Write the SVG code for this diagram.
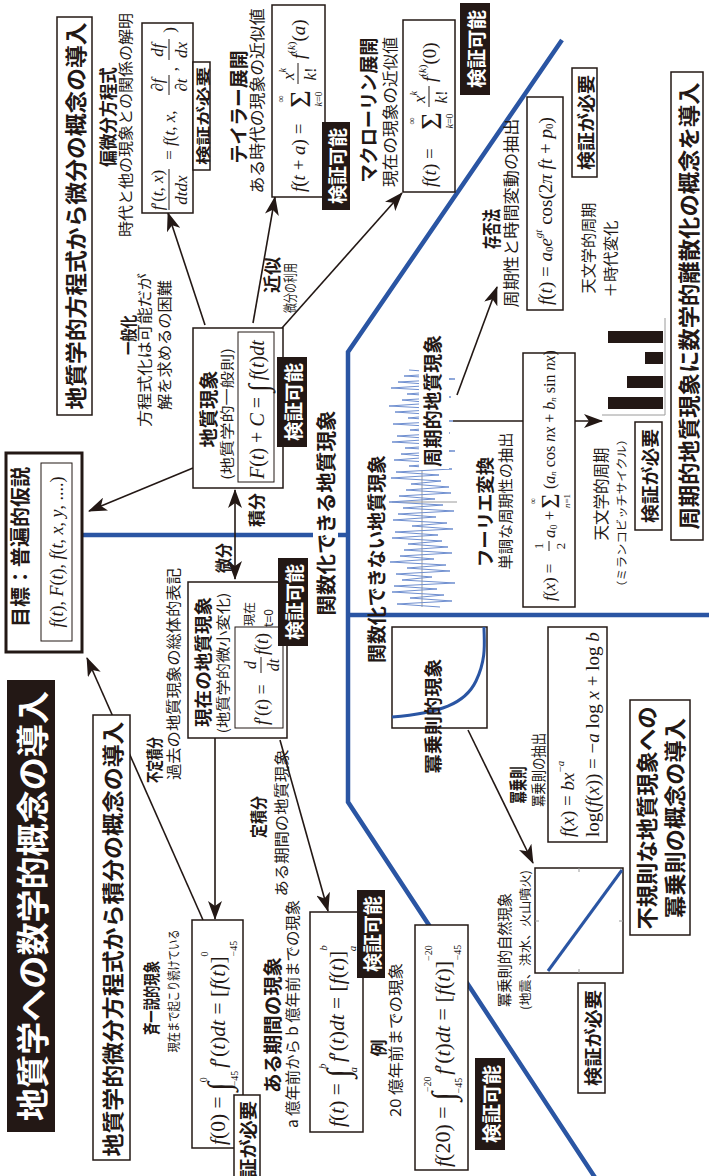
<svg xmlns="http://www.w3.org/2000/svg" width="709" height="1176" viewBox="0 0 709 1176">
<style>
.t{font-family:"Noto Sans CJK JP","Noto Sans CJK SC",sans-serif;text-anchor:middle;dominant-baseline:central;fill:#231815}
.b{font-weight:700}
.w{fill:#fff}
.m{font-family:"Liberation Serif",serif;fill:#231815;dominant-baseline:central}
.mc{text-anchor:middle}
.i{font-style:italic}
.box{fill:#fff;stroke:#231815;stroke-width:1.5}
.ibox{fill:#fff;stroke:#231815;stroke-width:1}
.blk{fill:#231815}
.need{fill:#fff;stroke:#231815;stroke-width:1.5}
.blue{fill:none;stroke:#2a55a3;stroke-width:4.5}
.ar{fill:none;stroke:#231815;stroke-width:1.6;marker-end:url(#ah)}
.fl{stroke:#231815;stroke-width:1}
.gray{fill:none;stroke:#9a9a9a;stroke-width:1}
</style>
<defs>
<marker id="ah" markerUnits="userSpaceOnUse" markerWidth="20" markerHeight="14" refX="18" refY="7" orient="auto-start-reverse"><path d="M0,0 L19,7 L0,14 L5,7 z" fill="#231815"/></marker>
</defs>
<rect width="709" height="1176" fill="#fff"/>
<g transform="translate(0,1176) rotate(-90)">

<g id="regions">
<polyline class="blue" points="1136,562 824,348 374,348 -3,596"/>
<line class="blue" x1="641" y1="82" x2="641" y2="313"/>
<line class="blue" x1="641" y1="338" x2="641" y2="350"/>
<line class="blue" x1="561" y1="348" x2="561" y2="712"/>
<text class="t b" x="663" y="325" font-size="20" textLength="205" lengthAdjust="spacingAndGlyphs">関数化できる地質現象</text>
<text class="t b" x="617" y="375" font-size="19" textLength="208" lengthAdjust="spacingAndGlyphs">関数化できない地質現象</text>
</g>

<g id="connectors">
<line class="ar" x1="256" y1="203" x2="518" y2="87"/>
<line class="ar" x1="708" y1="193" x2="665" y2="89"/>
<line class="ar" x1="597" y1="235" x2="686" y2="235" style="marker-start:url(#ah)"/>
<line class="ar" x1="851" y1="205" x2="963" y2="168"/>
<line class="ar" x1="853" y1="253" x2="979" y2="275"/>
<line class="ar" x1="848" y1="282" x2="983" y2="402"/>
<line class="ar" x1="438" y1="215" x2="257" y2="215"/>
<line class="ar" x1="436" y1="280" x2="265" y2="328"/>
<line class="ar" x1="446" y1="468" x2="313" y2="533"/>
<line class="ar" x1="781" y1="457" x2="889" y2="497"/>
<line class="ar" x1="755" y1="453" x2="755" y2="602"/>
<text class="t b" x="666" y="255" font-size="17" textLength="34" lengthAdjust="spacingAndGlyphs">積分</text>
<text class="t b" x="618" y="222" font-size="17" textLength="30" lengthAdjust="spacingAndGlyphs">微分</text>
<text class="t b" x="841" y="127" font-size="17" textLength="40" lengthAdjust="spacingAndGlyphs">一般化</text>
<text class="t" x="826" y="143" font-size="15" textLength="154" lengthAdjust="spacingAndGlyphs">方程式化は可能だが</text>
<text class="t" x="831" y="163" font-size="15" textLength="130" lengthAdjust="spacingAndGlyphs">解を求めるの困難</text>
<text class="t b" x="901" y="271" font-size="18" textLength="36" lengthAdjust="spacingAndGlyphs">近似</text>
<text class="t" x="888" y="289" font-size="14" textLength="50" lengthAdjust="spacingAndGlyphs">微分の利用</text>
<text class="t b" x="416" y="153" font-size="17" textLength="46" lengthAdjust="spacingAndGlyphs">不定積分</text>
<text class="t" x="502" y="172" font-size="15" textLength="212" lengthAdjust="spacingAndGlyphs">過去の地質現象の総体的表記</text>
<text class="t b" x="359" y="257" font-size="17" textLength="42" lengthAdjust="spacingAndGlyphs">定積分</text>
<text class="t" x="353" y="280" font-size="15" textLength="147" lengthAdjust="spacingAndGlyphs">ある期間の地質現象</text>
<text class="t b" x="391" y="517" font-size="18" textLength="37" lengthAdjust="spacingAndGlyphs">冪乗則</text>
<text class="t" x="406" y="537" font-size="15" textLength="74" lengthAdjust="spacingAndGlyphs">冪乗則の抽出</text>
<text class="t b" x="664" y="484" font-size="18" textLength="110" lengthAdjust="spacingAndGlyphs">フーリエ変換</text>
<text class="t" x="675" y="504" font-size="15" textLength="137" lengthAdjust="spacingAndGlyphs">単調な周期性の抽出</text>
<text class="t b" x="947" y="490" font-size="19" textLength="40" lengthAdjust="spacingAndGlyphs">存否法</text>
<text class="t" x="963" y="510" font-size="16" textLength="189" lengthAdjust="spacingAndGlyphs">周期性と時間変動の抽出</text>
</g>

<g id="n-title">
<rect x="44" y="7" width="452" height="48" class="blk"/>
<text class="t b w" x="270" y="31" font-size="33" textLength="430" lengthAdjust="spacingAndGlyphs">地質学への数学的概念の導入</text>
</g>

<g id="n-goal">
<rect x="524" y="6" width="199" height="76" fill="#fff" stroke="#231815" stroke-width="3"/>
<text class="t b" x="629" y="19" font-size="20" textLength="160" lengthAdjust="spacingAndGlyphs">目標：普遍的仮説</text>
<rect x="535" y="41" width="178" height="31" class="ibox"/>
<text class="m mc" x="624" y="57" font-size="18"><tspan class="i">f</tspan>(<tspan class="i">t</tspan>), <tspan class="i">F</tspan>(<tspan class="i">t</tspan>), <tspan class="i">f</tspan>(<tspan class="i">t</tspan>, <tspan class="i">x</tspan>, <tspan class="i">y</tspan>, ....)</text>
</g>

<g id="n-diff-intro">
<rect x="761" y="57" width="398" height="35" class="box"/>
<text class="t b" x="960" y="74" font-size="22" textLength="387" lengthAdjust="spacingAndGlyphs">地質学的方程式から微分の概念の導入</text>
</g>

<g id="n-int-intro">
<rect x="16" y="93" width="445" height="37" class="box"/>
<text class="t b" x="237" y="111" font-size="22" textLength="435" lengthAdjust="spacingAndGlyphs">地質学的微分方程式から積分の概念の導入</text>
</g>

<g id="n-geo">
<rect x="688" y="193" width="160" height="90" class="box"/>
<text class="t b" x="767" y="207" font-size="19" textLength="77" lengthAdjust="spacingAndGlyphs">地質現象</text>
<text class="t" x="762" y="226" font-size="14" textLength="132" lengthAdjust="spacingAndGlyphs">(地質学的一般則)</text>
<rect x="694" y="238" width="150" height="36" class="ibox"/>
<text class="m" x="697" y="257" font-size="20"><tspan class="i">F</tspan>(<tspan class="i">t</tspan>) + <tspan class="i">C</tspan> = <tspan font-size="28" dy="1">∫</tspan><tspan dx="4" dy="-1"><tspan class="i">f</tspan>(<tspan class="i">t</tspan>)<tspan class="i">dt</tspan></tspan></text>
<rect x="729" y="277" width="90" height="30" class="blk"/>
<text class="t b w" x="774" y="292" font-size="19" textLength="78" lengthAdjust="spacingAndGlyphs">検証可能</text>
</g>

<g id="n-present">
<rect x="438" y="188" width="156" height="99" class="box"/>
<text class="t b" x="514" y="202" font-size="18" textLength="130" lengthAdjust="spacingAndGlyphs">現在の地質現象</text>
<text class="t" x="513" y="222" font-size="14" textLength="141" lengthAdjust="spacingAndGlyphs">(地質学的微小変化)</text>
<rect x="448" y="235" width="101" height="48" class="ibox"/>
<text class="m" x="451" y="262" font-size="18"><tspan class="i">f</tspan>′(<tspan class="i">t</tspan>) =</text>
<text class="m mc i" x="511" y="250" font-size="16">d</text>
<line class="fl" x1="503" y1="261" x2="519" y2="261"/>
<text class="m mc i" x="511" y="273" font-size="16">dt</text>
<text class="m" x="521" y="262" font-size="18"><tspan class="i">f</tspan>(<tspan class="i">t</tspan>)</text>
<text class="t" x="562" y="248" font-size="12">現在</text>
<text class="t" x="558" y="267" font-size="12">t=0</text>
<rect x="530" y="278" width="88" height="30" class="blk"/>
<text class="t b w" x="574" y="293" font-size="19" textLength="76" lengthAdjust="spacingAndGlyphs">検証可能</text>
</g>

<g id="n-pde">
<text class="t b" x="1059" y="107" font-size="18" textLength="100" lengthAdjust="spacingAndGlyphs">偏微分方程式</text>
<text class="t" x="1051" y="124" font-size="15" textLength="224" lengthAdjust="spacingAndGlyphs">時代と他の現象との関係の解明</text>
<rect x="963" y="142" width="190" height="51" class="box"/>
<text class="m mc" x="986" y="157" font-size="17"><tspan class="i">f</tspan>′(<tspan class="i">t</tspan>, <tspan class="i">x</tspan>)</text>
<line class="fl" x1="966" y1="169" x2="1007" y2="169"/>
<text class="m mc i" x="986" y="181" font-size="17">dtdx</text>
<text class="m mc" x="1021" y="169" font-size="17">=</text>
<text class="m" x="1030" y="169" font-size="17"><tspan class="i">f</tspan>(<tspan class="i">t</tspan>, <tspan class="i">x</tspan>,</text>
<text class="m mc" x="1091" y="157" font-size="17">∂<tspan class="i">f</tspan></text>
<line class="fl" x1="1081" y1="169" x2="1101" y2="169"/>
<text class="m mc" x="1091" y="181" font-size="17">∂<tspan class="i">t</tspan></text>
<text class="m mc" x="1107" y="171" font-size="17">,</text>
<text class="m mc i" x="1126" y="157" font-size="17">df</text>
<line class="fl" x1="1116" y1="169" x2="1137" y2="169"/>
<text class="m mc i" x="1126" y="181" font-size="17">dx</text>
<text class="m mc" x="1146" y="169" font-size="17">)</text>
<rect x="1006" y="193" width="108" height="17" class="need"/>
<text class="t b" x="1060" y="202" font-size="14" textLength="98" lengthAdjust="spacingAndGlyphs">検証が必要</text>
</g>

<g id="n-taylor">
<text class="t b" x="1069" y="237" font-size="19" textLength="113" lengthAdjust="spacingAndGlyphs">テイラー展開</text>
<text class="t" x="1075" y="256" font-size="16" textLength="185" lengthAdjust="spacingAndGlyphs">ある時代の現象の近似値</text>
<rect x="979" y="272" width="192" height="53" class="box"/>
<text class="m" x="984" y="298" font-size="19"><tspan class="i">f</tspan>(<tspan class="i">t</tspan> + <tspan class="i">a</tspan>) =</text>
<text class="m mc" x="1077" y="299" font-size="30">Σ</text>
<text class="m mc" x="1077" y="280" font-size="10">∞</text>
<text class="m mc" x="1077" y="318" font-size="10"><tspan class="i">k</tspan>=0</text>
<text class="m mc" x="1102" y="288" font-size="17"><tspan class="i">x</tspan><tspan class="i" font-size="10" dy="-6">k</tspan></text>
<line class="fl" x1="1092" y1="298" x2="1113" y2="298"/>
<text class="m mc" x="1102" y="310" font-size="17"><tspan class="i">k</tspan>!</text>
<text class="m" x="1117" y="298" font-size="19"><tspan class="i">f</tspan><tspan font-size="11" dy="-7">(<tspan class="i">k</tspan>)</tspan><tspan dy="7">(</tspan><tspan class="i">a</tspan>)</text>
<rect x="966" y="322" width="88" height="28" class="blk"/>
<text class="t b w" x="1010" y="336" font-size="19" textLength="76" lengthAdjust="spacingAndGlyphs">検証可能</text>
</g>

<g id="n-maclaurin">
<text class="t b" x="1066" y="367" font-size="19" textLength="145" lengthAdjust="spacingAndGlyphs">マクローリン展開</text>
<text class="t" x="1064" y="389" font-size="16" textLength="150" lengthAdjust="spacingAndGlyphs">現在の現象の近似値</text>
<rect x="984" y="403" width="172" height="52" class="box"/>
<text class="m" x="989" y="429" font-size="19"><tspan class="i">f</tspan>(<tspan class="i">t</tspan>) =</text>
<text class="m mc" x="1055" y="430" font-size="30">Σ</text>
<text class="m mc" x="1055" y="411" font-size="10">∞</text>
<text class="m mc" x="1055" y="449" font-size="10"><tspan class="i">k</tspan>=0</text>
<text class="m mc" x="1079" y="419" font-size="17"><tspan class="i">x</tspan><tspan class="i" font-size="10" dy="-6">k</tspan></text>
<line class="fl" x1="1069" y1="429" x2="1090" y2="429"/>
<text class="m mc" x="1079" y="441" font-size="17"><tspan class="i">k</tspan>!</text>
<text class="m" x="1094" y="429" font-size="19"><tspan class="i">f</tspan><tspan font-size="11" dy="-7">(<tspan class="i">k</tspan>)</tspan><tspan dy="7">(0)</tspan></text>
<rect x="1081" y="460" width="92" height="30" class="blk"/>
<text class="t b w" x="1127" y="475" font-size="19" textLength="78" lengthAdjust="spacingAndGlyphs">検証可能</text>
</g>

<g id="n-uniform">
<text class="t b" x="178" y="150" font-size="17" textLength="74" lengthAdjust="spacingAndGlyphs">斉一説的現象</text>
<text class="t" x="185" y="172" font-size="13" textLength="123" lengthAdjust="spacingAndGlyphs">現在まで起こり続けている</text>
<rect x="28" y="192" width="228" height="51" class="box"/>
<text class="m" x="31" y="218" font-size="21.5"><tspan class="i">f</tspan>(0) = <tspan font-size="32" dy="1">∫</tspan><tspan font-size="10" dy="-16">0</tspan><tspan font-size="10" dx="-9" dy="31">−45</tspan><tspan dx="3" dy="-16"><tspan class="i">f</tspan>′(<tspan class="i">t</tspan>)<tspan class="i">dt</tspan> = [<tspan class="i">f</tspan>(<tspan class="i">t</tspan>)]</tspan><tspan font-size="10" dy="-14">0</tspan><tspan font-size="10" dx="-5" dy="29">−45</tspan></text>
<rect x="-27" y="234" width="108" height="26" class="need"/>
<text class="t b" x="27" y="247" font-size="18" textLength="96" lengthAdjust="spacingAndGlyphs">検証が必要</text>
</g>

<g id="n-period">
<text class="t b" x="151" y="271" font-size="19" textLength="136" lengthAdjust="spacingAndGlyphs">ある期間の現象</text>
<text class="t" x="162" y="291" font-size="15" textLength="228" lengthAdjust="spacingAndGlyphs">a 億年前から b 億年前までの現象</text>
<rect x="44" y="310" width="220" height="53" class="box"/>
<text class="m" x="49" y="337" font-size="21.5"><tspan class="i">f</tspan>(<tspan class="i">t</tspan>) = <tspan font-size="32" dy="1">∫</tspan><tspan class="i" font-size="11" dy="-16">b</tspan><tspan class="i" font-size="11" dx="-9" dy="31">a</tspan><tspan dx="5" dy="-16"><tspan class="i">f</tspan>′(<tspan class="i">t</tspan>)<tspan class="i">dt</tspan> = [<tspan class="i">f</tspan>(<tspan class="i">t</tspan>)]</tspan><tspan class="i" font-size="11" dy="-14">b</tspan><tspan class="i" font-size="11" dx="-6" dy="29">a</tspan></text>
<rect x="198" y="357" width="88" height="28" class="blk"/>
<text class="t b w" x="242" y="371" font-size="19" textLength="76" lengthAdjust="spacingAndGlyphs">検証可能</text>
</g>

<g id="n-example">
<text class="t b" x="128" y="377" font-size="17">例</text>
<text class="t" x="136" y="394" font-size="15" textLength="154" lengthAdjust="spacingAndGlyphs">20 億年前までの現象</text>
<rect x="6" y="415" width="245" height="53" class="box"/>
<text class="m" x="9" y="442" font-size="22"><tspan class="i">f</tspan>(20) = <tspan font-size="32" dy="1">∫</tspan><tspan font-size="10" dy="-16">−20</tspan><tspan font-size="10" dx="-17" dy="31">−45</tspan><tspan dx="3" dy="-16"><tspan class="i">f</tspan>′(<tspan class="i">t</tspan>)<tspan class="i">dt</tspan> = [<tspan class="i">f</tspan>(<tspan class="i">t</tspan>)]</tspan><tspan font-size="10" dy="-14">−20</tspan><tspan font-size="10" dx="-15" dy="29">−45</tspan></text>
<rect x="26" y="475" width="92" height="30" class="blk"/>
<text class="t b w" x="72" y="490" font-size="19" textLength="78" lengthAdjust="spacingAndGlyphs">検証可能</text>
</g>

<g id="n-power">
<rect x="448" y="392" width="101" height="95" class="box"/>
<path d="M459,392 C463,440 472,465 495,476 S535,484 549,484" fill="none" stroke="#2a55a3" stroke-width="3"/>
<text class="t b" x="460" y="432" font-size="18" textLength="115" lengthAdjust="spacingAndGlyphs">冪乗則的現象</text>
</g>

<g id="n-powerlaw">
<rect x="334" y="548" width="215" height="59" class="box"/>
<text class="m" x="339" y="567" font-size="19"><tspan class="i">f</tspan>(<tspan class="i">x</tspan>) = <tspan class="i">bx</tspan><tspan font-size="11" dy="-7">−<tspan class="i">a</tspan></tspan></text>
<text class="m" x="339" y="592" font-size="19">log(<tspan class="i">f</tspan>(<tspan class="i">x</tspan>)) = −<tspan class="i">a</tspan> log <tspan class="i">x</tspan> + log <tspan class="i">b</tspan></text>
</g>

<g id="n-scatter">
<text class="t" x="226" y="503" font-size="15" textLength="114" lengthAdjust="spacingAndGlyphs">冪乗則的自然現象</text>
<text class="t" x="236" y="524" font-size="12" textLength="140" lengthAdjust="spacingAndGlyphs">(地震、洪水、火山噴火)</text>
<rect x="203" y="535" width="105" height="88" class="box"/>
<line x1="255" y1="535" x2="255" y2="539" class="gray"/>
<line x1="255" y1="619" x2="255" y2="623" class="gray"/>
<line x1="203" y1="579" x2="207" y2="579" class="gray"/>
<line x1="304" y1="579" x2="308" y2="579" class="gray"/>
<line x1="205" y1="548" x2="306" y2="622" stroke="#2a55a3" stroke-width="3"/>
<rect x="83" y="578" width="110" height="27" class="need"/>
<text class="t b" x="138" y="591.5" font-size="18" textLength="96" lengthAdjust="spacingAndGlyphs">検証が必要</text>
</g>

<g id="n-irregular">
<rect x="241" y="630" width="235" height="60" class="box"/>
<text class="t b" x="358" y="645" font-size="22" textLength="223" lengthAdjust="spacingAndGlyphs">不規則な地質現象への</text>
<text class="t b" x="358" y="673" font-size="22" textLength="200" lengthAdjust="spacingAndGlyphs">冪乗則の概念の導入</text>
</g>

<g id="n-periodic">
<line x1="569" y1="422" x2="706" y2="422" class="gray"/>
<line x1="674" y1="392" x2="674" y2="457" class="gray"/>
<path fill="none" stroke="#6f8fd0" stroke-width="1" d="M569,440 572,397 575,452 578,410 581,444 584,392 587,437 590,394 593,455 596,402 599,432 602,396 605,450 608,407 611,446 614,390 617,434 620,400 623,452 626,404 629,448 632,408 635,442 638,392 641,438 644,395 647,453 650,412 653,447 656,393 659,436 662,398 665,454 668,403 671,443 674,389 677,435 680,399 683,451 686,406 689,449 692,411 695,441 698,391 701,439 704,396 707,452 710,409 713,445 716,394 719,433 722,401 725,455 728,405 731,447 734,392 737,437 740,397 743,450 746,410 749,442 752,393 755,453 758,408 761,440 764,395 767,446 770,389 773,434 776,402 779,451 782,407 785,444 788,391 791,438 794,398 797,455 800,404 803,448 806,409"/>
<rect x="707" y="419" width="136" height="30" fill="#fff"/>
<text class="t b" x="775" y="431" font-size="19" textLength="132" lengthAdjust="spacingAndGlyphs">周期的地質現象</text>
</g>

<g id="n-fourier">
<rect x="569" y="523" width="254" height="52" class="box"/>
<text class="m" x="575" y="549" font-size="17"><tspan class="i">f</tspan>(<tspan class="i">x</tspan>) =</text>
<text class="m mc" x="630" y="538" font-size="13">1</text>
<line class="fl" x1="625" y1="549" x2="635" y2="549"/>
<text class="m mc" x="630" y="560" font-size="13">2</text>
<text class="m" x="638" y="549" font-size="17"><tspan class="i">a</tspan><tspan font-size="10" dy="4">0</tspan><tspan dy="-4"> +</tspan></text>
<text class="m mc" x="675" y="550" font-size="26">Σ</text>
<text class="m mc" x="675" y="533" font-size="9">∞</text>
<text class="m mc" x="675" y="567" font-size="9"><tspan class="i">n</tspan>=1</text>
<text class="m" x="687" y="549" font-size="16">(<tspan class="i">a</tspan><tspan class="i" font-size="9" dy="4">n</tspan><tspan dy="-4"> cos </tspan><tspan class="i">nx</tspan> + <tspan class="i">b</tspan><tspan class="i" font-size="9" dy="4">n</tspan><tspan dy="-4"> sin </tspan><tspan class="i">nx</tspan>)</text>
<text class="t" x="682" y="600" font-size="16" textLength="93" lengthAdjust="spacingAndGlyphs">天文学的周期</text>
<text class="t" x="663" y="621" font-size="11" textLength="160" lengthAdjust="spacingAndGlyphs">（ミランコビッチサイクル）</text>
<rect x="646" y="635" width="108" height="27" class="need"/>
<text class="t b" x="700" y="648.5" font-size="18" textLength="94" lengthAdjust="spacingAndGlyphs">検証が必要</text>
</g>

<g id="n-bars">
<line x1="761" y1="665" x2="858" y2="665" class="gray"/>
<line x1="761" y1="602" x2="761" y2="665" class="gray"/>
<rect x="767" y="608" width="12" height="55" class="blk"/>
<rect x="788" y="627" width="12" height="36" class="blk"/>
<rect x="812" y="645" width="12" height="18" class="blk"/>
<rect x="833" y="608" width="12" height="55" class="blk"/>
</g>

<g id="n-sonpi">
<rect x="866" y="527" width="213" height="36" class="box"/>
<text class="m" x="871" y="545" font-size="19"><tspan class="i">f</tspan>(<tspan class="i">t</tspan>) = <tspan class="i">a</tspan><tspan font-size="11" dy="4">0</tspan><tspan class="i" dy="-4">e</tspan><tspan class="i" font-size="11" dy="-7">gt</tspan><tspan dy="7"> cos(2</tspan><tspan class="i">π ft</tspan> + <tspan class="i">p</tspan><tspan font-size="11" dy="4">0</tspan><tspan dy="-4">)</tspan></text>
<rect x="999" y="572" width="109" height="25" class="need"/>
<text class="t b" x="1053.5" y="584.5" font-size="18" textLength="95" lengthAdjust="spacingAndGlyphs">検証が必要</text>
<text class="t" x="928" y="587" font-size="15" textLength="91" lengthAdjust="spacingAndGlyphs">天文学的周期</text>
<text class="t" x="917" y="609" font-size="15" textLength="77" lengthAdjust="spacingAndGlyphs">＋時代変化</text>
</g>

<g id="n-discrete">
<rect x="636" y="671" width="468" height="32" class="box"/>
<text class="t b" x="870" y="687" font-size="22" textLength="447" lengthAdjust="spacingAndGlyphs">周期的地質現象に数学的離散化の概念を導入</text>
</g>

</g>
</svg>
